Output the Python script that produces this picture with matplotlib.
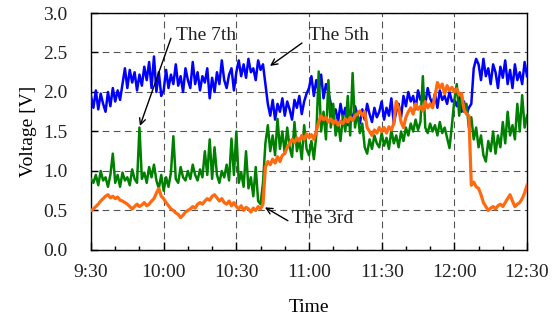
import numpy as np
import matplotlib
matplotlib.use('Agg')
import matplotlib.pyplot as plt

# ─── DATA (one reading per minute, 9:30 -> 12:30) ────────────
t_labels = ['9:30', '10:00', '10:30', '11:00', '11:30', '12:00', '12:30']

v_5th = [
    1.95, 1.80, 2.02, 1.78, 1.98, 1.85, 1.75, 2.00, 1.82, 2.05,
    1.88, 2.02, 1.90, 2.10, 2.30, 2.05, 2.28, 2.12, 2.25, 2.02,
    2.22, 2.08, 2.32, 2.15, 2.38, 2.05, 2.45, 2.00, 2.25, 1.95,
    2.02, 2.28, 2.05, 2.22, 2.10, 2.35, 2.08, 2.20, 2.00, 2.30,
    2.15, 2.05, 2.38, 2.10, 2.25, 2.02, 2.20, 2.12, 2.30, 1.92,
    2.18, 2.00, 2.25, 2.10, 2.40, 2.15, 2.05, 2.22, 2.30, 2.02,
    2.25, 2.40, 2.20, 2.35, 2.18, 2.42, 2.25, 2.30, 2.15, 2.40,
    2.28, 2.35, 2.10, 1.85, 1.70, 1.90, 1.65, 1.85, 1.75, 1.92,
    1.70, 1.88, 1.78, 1.65, 1.90, 1.80, 1.95, 1.72, 1.88, 1.98,
    2.05, 2.20, 1.95, 2.15, 2.00, 2.22, 1.92, 2.10, 2.00, 1.85,
    1.70, 1.78, 1.62, 1.85, 1.68, 1.80, 1.58, 1.75, 1.65, 1.82,
    1.70, 1.60, 1.78, 1.65, 1.85, 1.72, 1.62, 1.80, 1.68, 1.75,
    1.88, 1.65, 1.80, 1.70, 1.92, 1.60, 1.75, 1.85, 1.68, 1.95,
    1.82, 2.00, 1.88, 1.95, 1.78, 2.02, 1.90, 1.98, 1.85, 2.05,
    1.92, 1.85, 1.98, 1.80, 2.02, 1.90, 1.95, 1.85, 2.00, 1.88,
    1.90, 1.82, 1.95, 1.75, 1.88, 1.72, 1.80, 1.85, 2.30, 2.42,
    2.35, 2.15, 2.42, 2.20, 2.30, 2.10, 2.35, 2.25, 2.05, 2.32,
    2.18, 2.40, 2.10, 2.28, 2.05, 2.35, 2.15, 2.25, 2.10, 2.38, 2.20,
]

v_7th = [
    0.90, 0.85, 0.95, 0.82, 1.00, 0.88, 0.92, 0.80, 0.95, 1.22,
    0.85, 0.95, 0.80, 0.98, 0.88, 0.92, 0.82, 1.02, 0.90, 0.85,
    1.55, 0.90, 0.98, 0.85, 1.05, 0.92, 1.08, 0.88, 0.78, 0.95,
    0.75, 0.92, 0.80, 0.98, 1.44, 0.90, 0.85, 1.05, 0.92, 0.88,
    1.00, 0.90, 1.08, 0.95, 0.88, 1.02, 0.92, 1.25, 0.95, 1.40,
    0.90, 1.30, 0.95, 0.85, 1.00, 0.92, 1.08, 0.88, 1.41, 0.95,
    1.50, 0.85, 0.98, 0.80, 1.25, 0.78, 0.92, 0.68, 1.05, 0.62,
    0.58, 0.85, 1.35, 1.58, 1.25, 1.45, 1.20, 1.66, 1.28, 1.50,
    1.22, 1.55, 1.30, 1.18, 1.62, 1.25, 1.40, 1.15, 1.58, 1.28,
    1.20, 1.38, 1.15, 1.45, 2.26, 1.50, 1.75, 1.40, 2.15, 1.55,
    1.85, 1.45, 1.62, 1.38, 1.70, 1.50, 1.95, 1.45, 2.24, 1.55,
    1.75, 1.48, 1.60, 1.30, 1.22, 1.40, 1.28, 1.45, 1.35, 1.30,
    1.48, 1.32, 1.42, 1.28, 1.52, 1.35, 1.45, 1.30, 1.50, 1.38,
    1.55, 1.45, 1.60, 1.50, 1.65, 1.52, 1.62, 2.20, 1.55, 1.48,
    1.60, 1.50, 1.58, 1.45, 1.62, 1.48, 1.55, 1.42, 1.29, 1.58,
    1.90, 2.10, 1.70, 1.95, 1.75, 1.85, 1.55, 1.68, 1.40, 1.55,
    1.30, 1.45, 1.20, 1.12, 1.38, 1.25, 1.50, 1.22, 1.45, 1.30,
    1.62, 1.35, 1.75, 1.45, 1.58, 1.40, 1.85, 1.50, 1.96, 1.55, 1.70,
]

v_3rd = [
    0.50, 0.52, 0.55, 0.58, 0.62, 0.65, 0.68, 0.70, 0.66, 0.68,
    0.65, 0.67, 0.63, 0.62, 0.60, 0.58, 0.55, 0.52, 0.55, 0.58,
    0.55, 0.57, 0.60, 0.56, 0.58, 0.62, 0.65, 0.72, 0.78, 0.68,
    0.65, 0.60, 0.56, 0.52, 0.50, 0.47, 0.45, 0.41, 0.44, 0.48,
    0.50, 0.52, 0.55, 0.53, 0.58, 0.60, 0.58, 0.62, 0.65, 0.63,
    0.68, 0.70, 0.66, 0.62, 0.65, 0.60, 0.58, 0.62, 0.56, 0.60,
    0.55, 0.52, 0.56, 0.50, 0.54, 0.52, 0.48, 0.53, 0.50, 0.55,
    0.52, 0.58, 1.05, 1.12, 1.08, 1.15, 1.10, 1.18, 1.12, 1.20,
    1.22, 1.30, 1.35, 1.40, 1.36, 1.42, 1.38, 1.45, 1.40, 1.47,
    1.42, 1.46, 1.40, 1.50, 1.62, 1.70, 1.65, 1.68, 1.62, 1.66,
    1.60, 1.64, 1.58, 1.63, 1.60, 1.66, 1.62, 1.68, 1.64, 1.70,
    1.72, 1.76, 1.70, 1.75, 1.55, 1.50, 1.45, 1.52, 1.48, 1.55,
    1.50, 1.55, 1.48, 1.56, 1.52, 1.60, 1.88, 1.80, 1.62, 1.55,
    1.68, 1.75, 1.80, 1.72, 1.85, 1.78, 1.82, 1.76, 1.88, 1.80,
    1.85, 1.80, 1.95, 2.12, 2.05, 2.10, 1.98, 2.08, 2.02, 2.06,
    2.00, 2.04, 1.96, 1.98, 1.78, 1.72, 1.70, 0.82, 0.86, 0.80,
    0.78, 0.70, 0.60, 0.55, 0.50, 0.53, 0.55, 0.52, 0.56, 0.58,
    0.55, 0.60, 0.65, 0.70, 0.62, 0.55, 0.58, 0.60, 0.65, 0.72, 0.82,
]

minutes = np.arange(len(v_5th))

# ─── STYLE ───────────────────────────────────────────────────
plt.rcParams.update({
    'font.family': ['Liberation Serif', 'DejaVu Serif'],
    'font.size': 14,
    'axes.linewidth': 1.0,
    'text.color': '#222222',
    'xtick.labelcolor': '#222222',
    'ytick.labelcolor': '#222222',
})

fig = plt.figure(figsize=(5.6, 3.25), dpi=100)
ax = fig.add_axes([0.1625, 0.2308, 0.7786, 0.7292])

ax.plot(minutes, v_5th, color='#0000FF', lw=1.8, zorder=3)
ax.plot(minutes, v_7th, color='#008000', lw=1.8, zorder=4)
ax.plot(minutes, v_3rd, color='#FF6A10', lw=2.3, zorder=5)

ax.set_xlim(0, 180)
ax.set_ylim(0, 3.0)
ax.set_xticks(np.arange(0, 181, 30))
ax.set_xticklabels(t_labels)
ax.set_xticks(np.arange(0, 181, 10), minor=True)
ax.set_yticks(np.arange(0, 3.01, 0.5))
ax.set_yticklabels([f'{v:.1f}' for v in np.arange(0, 3.01, 0.5)])
ax.tick_params(which='major', direction='in', length=6, width=1.0, pad=10)
ax.tick_params(which='minor', direction='in', length=3, width=1.0)
ax.tick_params(axis='y', which='major', length=5, pad=17)
ax.grid(True, which='major', color='#555555', linestyle=(0, (6, 4)), linewidth=0.8)
ax.set_axisbelow(True)

ax.set_xlabel('Time', labelpad=13)
ax.set_ylabel('Voltage [V]', labelpad=4)

arw = dict(arrowstyle='->', color='black', lw=1.0, mutation_scale=11,
           shrinkA=0, shrinkB=0)
ax.annotate('', xy=(20.2, 1.57), xytext=(33.0, 2.68), arrowprops=arw, zorder=6)
ax.text(35, 2.72, 'The 7th', ha='left', va='center')
ax.annotate('', xy=(73.9, 2.33), xytext=(87.1, 2.62), arrowprops=arw, zorder=6)
ax.text(90, 2.72, 'The 5th', ha='left', va='center')
ax.annotate('', xy=(71.8, 0.54), xytext=(81.3, 0.37), arrowprops=arw, zorder=6)
ax.text(83, 0.40, 'The 3rd', ha='left', va='center')

plt.savefig('out.png', dpi=100)
